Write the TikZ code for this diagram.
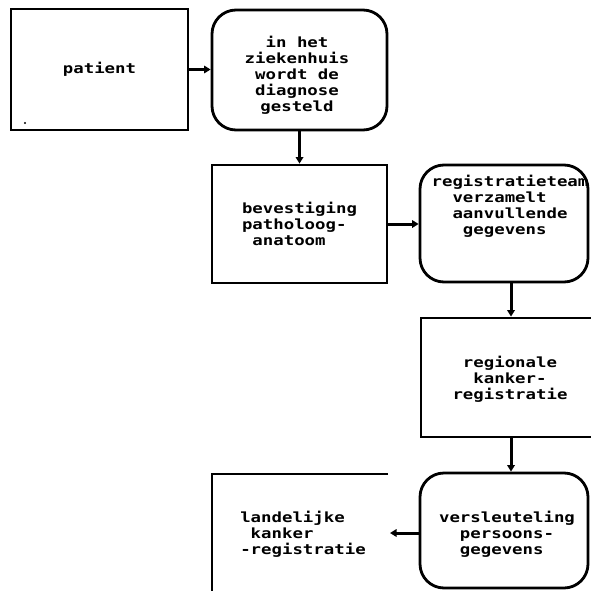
\documentclass[tikz,border=0pt]{standalone}
\usepackage{fontspec}
\usetikzlibrary{arrows.meta,calc}
\newfontfamily\plotfont[FakeStretch=1.24]{DejaVu Sans Mono Bold}
\begin{document}
\begin{tikzpicture}[x=1pt,y=-1pt,
  box/.style={draw, line width=2.8pt, inner sep=0pt},
  rbox/.style={box, rounded corners=24pt},
  txt/.style={font=\plotfont\fontsize{14}{16}\selectfont, inner sep=0pt},
  arr/.style={line width=3pt, -{Triangle[length=6.5pt,width=7.5pt]}}]
\clip (0,0) rectangle (591,591);

% boxes of the flow
\node[box, txt, align=center, minimum width=177pt, minimum height=121pt] (patient) at (99.5,69.5) {patient};
\node[rbox, minimum width=175pt, minimum height=120pt] (hosp) at (299.5,70) {};
\node[txt, align=center] (hosptext) at (297,75)
  {in het\\ziekenhuis\\wordt de\\diagnose\\gesteld};
\node[box, txt, align=left, minimum width=175pt, minimum height=118pt] (bev) at (299.5,224)
  {bevestiging\\patholoog-\\\phantom{a}anatoom};
\node[rbox, minimum width=168pt, minimum height=117pt] (team) at (504,223.5) {};
\node[txt, align=left] (teamtext) at (510,206)
  {registratieteam\\\phantom{aa}verzamelt\\\phantom{aa}aanvullende\\\phantom{aaa}gegevens};
\node[box, minimum width=180pt, minimum height=119pt] (reg) at (511,377.5) {};
\node[txt, align=center] (regtext) at (510,379)
  {regionale\\kanker-\\registratie};
\node[rbox, minimum width=168pt, minimum height=115pt] (versl) at (504,530.5) {};
\node[txt, align=left] (versltext) at (507,534)
  {versleuteling\\\phantom{aa}persoons-\\\phantom{aa}gegevens};

% national registry: only its top and left edges are drawn
\coordinate (landtr) at (388,474);
\coordinate (landtl) at (212,474);
\coordinate (landbl) at (212,600);
\draw[line width=2.8pt] (landtr) -- (landtl) -- (landbl);
\node[txt, align=left] (landtext) at (303,534)
  {landelijke\\\phantom{a}kanker\\-registratie};
\coordinate (landin) at (390,533);

% speck in the patient box
\fill (25,123) circle (1.2pt);

% connectors
\draw[arr] (patient.east) -- (hosp.west |- patient.east);
\draw[arr] (hosp.south) -- (bev.north);
\draw[arr] (bev.east) -- (team.west |- bev.east);
\draw[arr] (reg.north |- team.south) -- (reg.north);
\draw[arr] (reg.south) -- (reg.south |- versl.north);
\draw[arr] (versl.west |- landin) -- (landin);
\end{tikzpicture}
\end{document}
